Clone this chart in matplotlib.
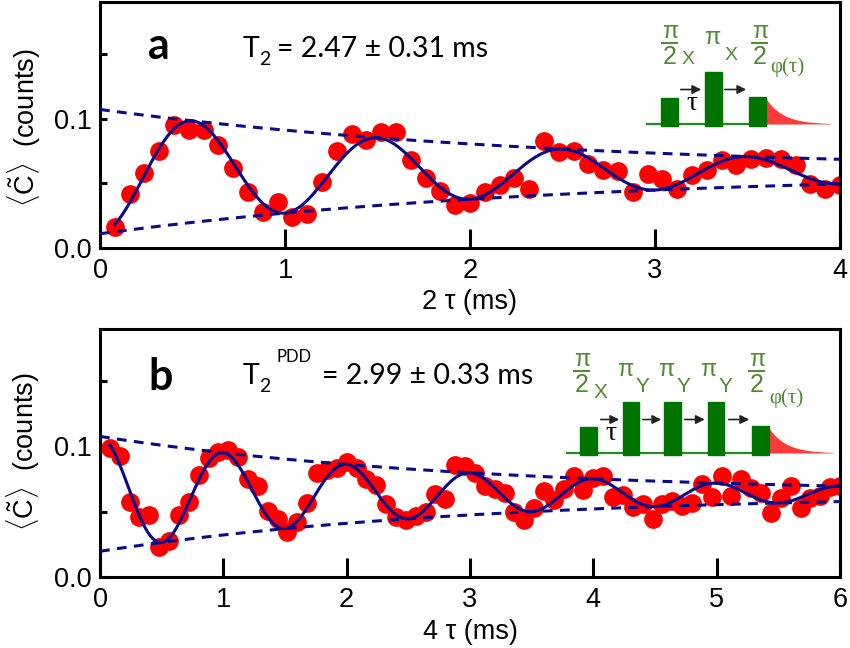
import numpy as np
import matplotlib
matplotlib.use('Agg')
import matplotlib.pyplot as plt

plt.rcParams['font.family'] = ['Liberation Sans', 'DejaVu Sans']
plt.rcParams['mathtext.fontset'] = 'custom'
plt.rcParams['mathtext.rm'] = 'Liberation Sans'

# panel a : Hahn echo, 2 tau (ms)
tau_a = [0.08, 0.16, 0.24, 0.32, 0.40, 0.48, 0.56, 0.64, 0.72, 0.80,
         0.88, 0.96, 1.04, 1.12, 1.20, 1.28, 1.36, 1.44, 1.52, 1.60,
         1.68, 1.76, 1.84, 1.92, 2.00, 2.08, 2.16, 2.24, 2.32, 2.40,
         2.48, 2.56, 2.64, 2.72, 2.80, 2.88, 2.96, 3.04, 3.12, 3.20,
         3.28, 3.36, 3.44, 3.52, 3.60, 3.68, 3.76, 3.84, 3.92, 4.00]
counts_a = [0.016, 0.0415, 0.058, 0.0746, 0.095, 0.0915, 0.0908, 0.0797, 0.062, 0.0433,
            0.028, 0.0356, 0.0236, 0.026, 0.051, 0.0749, 0.0877, 0.0836, 0.0895, 0.0895,
            0.0677, 0.0544, 0.044, 0.033, 0.0344, 0.0433, 0.0485, 0.0544, 0.0454, 0.083,
            0.074, 0.0749, 0.0646, 0.06, 0.0595, 0.0433, 0.0575, 0.0536, 0.0459, 0.056,
            0.06, 0.0677, 0.0638, 0.069, 0.0698, 0.069, 0.0638, 0.0498, 0.0454, 0.049]

# panel b : PDD, 4 tau (ms)
tau_b = [0.08, 0.16, 0.24, 0.32, 0.40, 0.48, 0.56, 0.64, 0.72, 0.80,
         0.88, 0.96, 1.04, 1.12, 1.20, 1.28, 1.36, 1.44, 1.52, 1.60,
         1.68, 1.76, 1.84, 1.92, 2.00, 2.08, 2.16, 2.24, 2.32, 2.40,
         2.48, 2.56, 2.64, 2.72, 2.80, 2.88, 2.96, 3.04, 3.12, 3.20,
         3.28, 3.36, 3.44, 3.52, 3.60, 3.68, 3.76, 3.84, 3.92, 4.00,
         4.08, 4.16, 4.24, 4.32, 4.40, 4.48, 4.56, 4.64, 4.72, 4.80,
         4.88, 4.96, 5.04, 5.12, 5.20, 5.28, 5.36, 5.44, 5.52, 5.60,
         5.68, 5.76, 5.84, 5.92, 6.00]
counts_b = [0.0987, 0.0929, 0.0575, 0.0463, 0.0474, 0.0228, 0.0279, 0.0474, 0.0575, 0.0778,
            0.0911, 0.0954, 0.097, 0.0919, 0.0747, 0.0696, 0.0506, 0.0443, 0.0342, 0.0418,
            0.0565, 0.0793, 0.0823, 0.0835, 0.088, 0.0835, 0.0747, 0.0702, 0.0557, 0.0463,
            0.0438, 0.0468, 0.0499, 0.0633, 0.0595, 0.0861, 0.0853, 0.0797, 0.0696, 0.0671,
            0.0645, 0.0499, 0.0438, 0.0532, 0.0658, 0.059, 0.0676, 0.077, 0.067, 0.076,
            0.077, 0.061, 0.063, 0.054, 0.056, 0.0447, 0.0557, 0.058, 0.0545, 0.057,
            0.071, 0.061, 0.0772, 0.062, 0.0747, 0.0683, 0.0645, 0.0489, 0.0604, 0.0696,
            0.0532, 0.0604, 0.0617, 0.0691, 0.0696]

# fit parameters: offset, amplitude, T2 (ms), oscillation period (ms)
fit_a = dict(c=0.059, A=0.048, T=2.47, P=1.0, sign=-1)
fit_b = dict(c=0.0637, A=0.044, T=2.99, P=1.0, sign=1)

NAVY = '#0a0a8a'
GREEN_TXT = '#4e8a2e'
GREEN_BAR = '#007400'


def model(x, p, env=0):
    x = np.asarray(x)
    e = p['A'] * np.exp(-x / p['T'])
    if env:
        return p['c'] + env * e
    return p['c'] + p['sign'] * e * np.cos(2 * np.pi * x / p['P'])


def panel(ax, tau, counts, p, xmax, xlabel):
    ax.plot(tau, counts, 'o', color='red', ms=13.5, mec='none', zorder=2)
    xs = np.linspace(tau[0], tau[-1], 600)
    ax.plot(xs, model(xs, p), color=NAVY, lw=2.2, zorder=3)
    xe = np.linspace(0, xmax, 200)
    for s in (1, -1):
        ax.plot(xe, model(xe, p, env=s), color=NAVY, lw=2.2, dashes=(3.2, 2.4), zorder=3)
    ax.set_xlim(0, xmax)
    ax.set_ylim(0, 0.19)
    ax.set_xticks(range(xmax + 1))
    ax.set_yticks([0, 0.05, 0.1, 0.15])
    ax.set_yticklabels(['0.0', '', '0.1', ''])
    for s in ax.spines.values():
        s.set_linewidth(2.2)
    ax.tick_params(axis='x', direction='in', length=14, width=2.2, labelsize=19.5, pad=7)
    ax.tick_params(axis='y', direction='in', length=5, width=2.2, labelsize=19.5, pad=6)
    ax.set_xlabel(xlabel, fontsize=19.5)
    ax.set_ylabel(r'$\langle\tilde{\mathrm{C}}\rangle$  (counts)', fontsize=19.5)


fig = plt.figure(figsize=(8.5, 6.48), dpi=100)
ax_a = fig.add_axes([100 / 850, 1 - 248 / 648, 740 / 850, 246 / 648])
ax_b = fig.add_axes([100 / 850, 1 - 577 / 648, 740 / 850, 248 / 648])
panel(ax_a, tau_a, counts_a, fit_a, 4, '2 τ (ms)')
panel(ax_b, tau_b, counts_b, fit_b, 6, '4 τ (ms)')
ax_a.xaxis.set_label_coords(0.5, -0.165)
ax_b.xaxis.set_label_coords(0.5, -0.168)
ax_a.yaxis.set_label_coords(-0.077, 0.49)
ax_b.yaxis.set_label_coords(-0.079, 0.506)

# overlay in pixel coordinates for labels and pulse sketches
ov = fig.add_axes([0, 0, 1, 1], zorder=10)
ov.set_xlim(0, 850)
ov.set_ylim(648, 0)
ov.axis('off')


def t2_label(y, txt, sup=None):
    ov.text(243, y, 'T', fontsize=20.5, family='Lato', va='baseline')
    ov.text(259, y + 8, '2', fontsize=14, family='Lato', va='baseline')
    if sup:
        ov.text(277, y - 22, sup, fontsize=12, family='Lato', va='baseline')
        ov.text(322, y, txt, fontsize=20.5, family='Lato', va='baseline')
    else:
        ov.text(277, y, txt, fontsize=20.5, family='Lato', va='baseline')


ov.text(148, 59, 'a', fontsize=31, family='Lato', weight='bold', va='baseline')
ov.text(148, 390, 'b', fontsize=31, family='Lato', weight='bold', va='baseline')
t2_label(57, '= 2.47 ± 0.31 ms')
t2_label(384, '= 2.99 ± 0.33 ms', sup='PDD')


def half_pi(cx, ytop):
    ov.text(cx, ytop, 'π', fontsize=17, color=GREEN_TXT, ha='center', va='center')
    ov.plot([cx - 7.5, cx + 7.5], [ytop + 11, ytop + 11], color=GREEN_TXT, lw=1.4)
    ov.text(cx, ytop + 25, '2', fontsize=18, color=GREEN_TXT, ha='center', va='center')


def pulses(base, x0, x1, bars, arrows, taupos):
    ov.plot([x0, x1], [base, base], color='#1f8f1f', lw=1.6, zorder=1)
    for l, r, top in bars:
        ov.add_patch(plt.Rectangle((l, top), r - l, base + 2 - top, color=GREEN_BAR, zorder=2))
    xr = np.linspace(x1, x1 + 64, 80)
    h = base - bars[-1][2] - 2
    ov.fill_between(xr, base, base - h * np.exp(-(xr - x1) / 17), color='#ff3a3a', lw=0)
    for a0, a1, ya in arrows:
        ov.annotate('', xy=(a1, ya), xytext=(a0, ya),
                    arrowprops=dict(arrowstyle='-|>', color='#222222', lw=1.2, mutation_scale=13))
    ov.text(taupos[0], taupos[1], 'τ', fontsize=20, family='Liberation Serif',
            ha='center', va='center')


# panel a sketch
pulses(124, 647, 766, [(661, 678, 97.5), (705.5, 722, 71.5), (749.5, 766, 96.5)],
       [(678, 704, 89.5), (722, 749, 89.5)], (692, 104))
half_pi(670, 32)
ov.text(688, 59, 'X', fontsize=14, color=GREEN_TXT, ha='center', va='center')
ov.text(712, 38, 'π', fontsize=17, color=GREEN_TXT, ha='center', va='center')
ov.text(731, 56, 'X', fontsize=14, color=GREEN_TXT, ha='center', va='center')
half_pi(760, 32)
ov.text(787, 67, 'φ(τ)', fontsize=15, family='Liberation Serif', color=GREEN_TXT,
        ha='center', va='center')

# panel b sketch
pulses(453, 567, 769, [(580, 597, 427), (623, 639.5, 401.5), (664.5, 681, 401.5),
                       (708.5, 724.5, 401.5), (752.5, 769, 426)],
       [(598, 622, 419.5), (640, 664, 419.5), (682, 707.5, 419.5), (726, 752, 419.5)],
       (611, 434))
half_pi(582, 360)
ov.text(600, 392, 'X', fontsize=15, color=GREEN_TXT, ha='center', va='center')
for px in (625, 666, 708):
    ov.text(px, 370, 'π', fontsize=17, color=GREEN_TXT, ha='center', va='center')
    ov.text(px + 17, 387, 'Y', fontsize=15, color=GREEN_TXT, ha='center', va='center')
half_pi(757, 360)
ov.text(786, 398, 'φ(τ)', fontsize=15, family='Liberation Serif', color=GREEN_TXT,
        ha='center', va='center')

fig.savefig('out.png', dpi=100)
